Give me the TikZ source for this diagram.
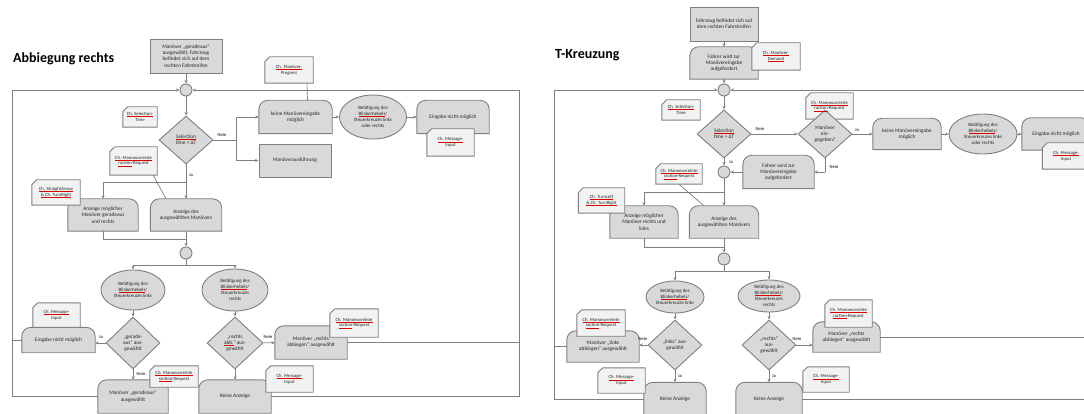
\documentclass[tikz,border=0pt]{standalone}
\usepackage{fontspec}
\setmainfont{Carlito}
\usetikzlibrary{shapes.geometric,arrows.meta}
\definecolor{shapefill}{HTML}{D9D9D9}
\definecolor{notefill}{HTML}{F2F2F2}
\definecolor{edge}{HTML}{7F7F7F}
\pgfdeclarelayer{bg}
\pgfsetlayers{bg,main}
% spell-check style underline
\newcommand{\redul}[1]{\setbox0\hbox{#1}\rlap{\color{red!85!black}\rule[-0.9pt]{\wd0}{0.3pt}}\box0}
% box with rounded top corners
\newcommand{\tombshape}[1]{%
  \begin{pgfonlayer}{bg}
    \filldraw[draw=edge,fill=shapefill,line width=0.9pt] (#1.south west) -- ([yshift=-9pt]#1.north west)
      arc[start angle=180,end angle=90,radius=9pt] -- ([xshift=-9pt]#1.north east)
      arc[start angle=90,end angle=0,radius=9pt] -- (#1.south east) -- cycle;
  \end{pgfonlayer}}
% note with cut corner
\newcommand{\noteshape}[1]{%
  \begin{pgfonlayer}{bg}
    \filldraw[draw=edge,fill=notefill,line width=0.9pt] (#1.south west) -- ([yshift=-5pt]#1.north west)
      -- ([xshift=5pt]#1.north west) -- (#1.north east) -- (#1.south east) -- cycle;
  \end{pgfonlayer}}
\tikzset{
  txt/.style={font=\fontsize{5.3}{6.2}\selectfont, align=center, inner sep=0pt, text=black!85},
  box/.style={txt, rectangle, draw=edge, fill=shapefill, line width=0.9pt},
  tombbox/.style={txt},
  note/.style={txt, font=\fontsize{4.7}{5.6}\selectfont},
  dec/.style={txt, diamond, draw=edge, fill=shapefill, line width=0.9pt, inner sep=0pt},
  act/.style={txt, font=\fontsize{4.9}{5.8}\selectfont, ellipse, draw=edge, fill=shapefill, line width=0.9pt, inner xsep=-6pt, inner ysep=0pt},
  merge/.style={circle, draw=edge, fill=shapefill, line width=0.9pt, minimum size=12pt, inner sep=0pt},
  lbl/.style={font=\fontsize{4.6}{5}\selectfont, inner sep=0pt},
  flow/.style={draw=edge, line width=0.7pt},
  arr/.style={flow, -{Stealth[length=3.5pt,width=3pt]}},
  ttl/.style={font=\fontsize{14}{16}\selectfont\bfseries, anchor=west, inner sep=0pt}
}
\begin{document}
\begin{tikzpicture}[x=1pt,y=-1pt]
\useasboundingbox (0,0) rectangle (1084,414);
\clip (0,0) rectangle (1084,414);

% ---------- Abbiegung rechts ----------
\node[ttl] (ttlL) at (13,59) {Abbiegung rechts};
\node[box, minimum width=72pt, minimum height=34pt] (startL) at (186,56) {Manöver „geradeaus“\\ausgewählt, Fahrzeug\\befindet sich auf dem\\rechten Fahrstreifen};
\node[merge] (mergeL1) at (186,90) {};
\node[dec, minimum width=54pt, minimum height=48pt] (selL) at (186,140) {\redul{Selection}\\time > ΔT};
\node[note, minimum width=34pt, minimum height=20pt] (nSelL) at (140,117) {\redul{Ch. Selection-}\\Time};
\noteshape{nSelL}

\node[tombbox, minimum width=73pt, minimum height=33pt] (keineL) at (295.5,117) {keine Manövereingabe\\möglich};
\tombshape{keineL}
\node[note, minimum width=48pt, minimum height=26pt] (nProgL) at (289,70) {\redul{Ch. Manöver-}\\Progress};
\noteshape{nProgL}
\node[act, minimum width=67pt, minimum height=44pt] (blinkL) at (373,117) {Betätigung des\\\redul{Blinkerhebels}/\\Steuerkreuzes links\\oder rechts};
\node[tombbox, minimum width=72pt, minimum height=33pt] (eingL1) at (453,117) {Eingabe nicht möglich};
\tombshape{eingL1}
\node[note, minimum width=47pt, minimum height=27pt] (nMsgL1) at (450.5,142.5) {\redul{Ch. Message-}\\Input};
\noteshape{nMsgL1}
\node[box, minimum width=72pt, minimum height=33pt] (ausfL) at (295,160.5) {Manöverausführung};

\coordinate (jNeinL) at (236,140);
\node[lbl] (neinL1) at (222,135) {Nein};
\draw[arr] (startL) -- (mergeL1);
\draw[arr] (mergeL1) -- (selL);
\draw[flow] (selL) -- (jNeinL);
\draw[arr] (jNeinL) |- (keineL);
\draw[arr] (jNeinL) |- (ausfL);
\draw[arr] (keineL) -- (blinkL);
\draw[arr] (blinkL) -- (eingL1);
\draw[flow] ([xshift=18pt]nProgL.south) -- ([xshift=12pt]keineL.north);

\node[tombbox, minimum width=70pt, minimum height=32pt] (anzMoegL) at (103,215) {Anzeige möglicher\\Manöver geradeaus\\und rechts};
\tombshape{anzMoegL}
\node[tombbox, minimum width=71pt, minimum height=32pt] (anzAusgL) at (186,215) {Anzeige des\\ausgewählten Manövers};
\tombshape{anzAusgL}
\node[note, minimum width=48pt, minimum height=25pt] (nArrL) at (56,192.5) {\redul{Ch. StraightArrow}\\\redul{\& Ch. TurnRight}};
\noteshape{nArrL}
\node[note, minimum width=47pt, minimum height=28pt] (nReqL1) at (133.5,161) {\redul{Ch. Manoeuvreinte}\\\redul{raction}-Request};
\noteshape{nReqL1}

\node[lbl] (jaL1) at (191,175) {Ja};
\coordinate (jJaL) at (186,182);
\draw[arr] (selL) -- (anzAusgL);
\draw[arr] (jJaL) -| (anzMoegL);
\draw[flow] ([xshift=-4pt]nReqL1.south east) -- ([xshift=-20pt]anzAusgL.north);

\node[merge] (mergeL2) at (186,253) {};
\coordinate (jAnzL) at (186,239);
\draw[flow] (anzMoegL) |- (jAnzL);
\draw[arr] (anzAusgL) -- (mergeL2);
\coordinate (jBlkL) at (186,265);
\node[act, minimum width=64pt, minimum height=40pt] (blinkLl) at (133,290) {Betätigung des\\\redul{Blinkerhebels}/\\Steuerkreuzes links};
\node[act, minimum width=66pt, minimum height=42pt] (blinkLr) at (235,290) {Betätigung des\\\redul{Blinkerhebels}/\\Steuerkreuzes\\rechts};
\draw[flow] (mergeL2) -- (jBlkL);
\draw[arr] (jBlkL) -| (blinkLl);
\draw[arr] (jBlkL) -| (blinkLr);

\node[dec, minimum width=54pt, minimum height=52pt] (decGerL) at (133,343) {„gerade-\\aus“ aus-\\gewählt};
\node[dec, minimum width=56pt, minimum height=52pt] (decRechL) at (235,343) {„rechts\\\redul{abb.}“ aus-\\gewählt};
\draw[arr] (blinkLl) -- (decGerL);
\draw[arr] (blinkLr) -- (decRechL);

\node[tombbox, minimum width=73pt, minimum height=25pt] (eingL2) at (58.5,340) {Eingabe nicht möglich};
\tombshape{eingL2}
\node[note, minimum width=47pt, minimum height=24pt] (nMsgL2) at (56.5,315) {\redul{Ch. Message-}\\Input};
\noteshape{nMsgL2}
\node[lbl] (jaL2) at (101,337) {Ja};
\draw[arr] (decGerL.west) -- (decGerL.west -| eingL2.east);

\node[tombbox, minimum width=70pt, minimum height=33pt] (manGerL) at (133,396.5) {Manöver „geradeaus“\\ausgewählt};
\tombshape{manGerL}
\node[note, minimum width=48pt, minimum height=21pt] (nReqL2) at (174,376.5) {\redul{Ch. Manoeuvreinte}\\\redul{raction}-Request};
\noteshape{nReqL2}
\node[lbl] (neinL2) at (141,374) {Nein};
\draw[arr] (decGerL) -- (manGerL);

\node[tombbox, minimum width=72pt, minimum height=33pt] (manRechL) at (311,342.5) {Manöver „rechts\\abbiegen“ ausgewählt};
\tombshape{manRechL}
\node[note, minimum width=48pt, minimum height=28pt] (nReqL3) at (354,323) {\redul{Ch. Manoeuvreinte}\\\redul{raction}-Request};
\noteshape{nReqL3}
\node[lbl] (neinL3) at (268,337) {Nein};
\draw[arr] (decRechL) -- (manRechL);

\node[tombbox, minimum width=72pt, minimum height=33pt] (keinAnzL) at (235,396.5) {Keine Anzeige};
\tombshape{keinAnzL}
\node[note, minimum width=47pt, minimum height=26pt] (nMsgL3) at (289.5,379) {\redul{Ch. Message-}\\Input};
\noteshape{nMsgL3}
\draw[arr] (decRechL) -- (keinAnzL);

\coordinate (cTLL) at (12,90);
\coordinate (cTRL) at (519,90);
\draw[arr] (manGerL.west) -| (cTLL) -- (mergeL1);
\draw[flow] (eingL2.west) -- (eingL2.west -| cTLL);
\draw[arr] (keinAnzL.east) -| (cTRL) -- (mergeL1);
\draw[flow] (manRechL.east) -- (manRechL.east -| cTRL);

% ---------- T-Kreuzung ----------
\node[ttl] (ttlR) at (555,55) {T-Kreuzung};
\node[box, minimum width=68pt, minimum height=34pt] (startR) at (724,24) {Fahrzeug befindet sich auf\\dem rechten Fahrstreifen};
\node[tombbox, minimum width=68pt, minimum height=32pt] (aufgR1) at (724,63) {Fahrer wird zur\\Manövereingabe\\aufgefordert};
\tombshape{aufgR1}
\node[note, minimum width=48pt, minimum height=27pt] (nDemR) at (776,56.5) {\redul{Ch. Manöver-}\\\redul{Demand}};
\noteshape{nDemR}
\node[merge] (mergeR1) at (724,90) {};
\draw[arr] (startR) -- (aufgR1);
\draw[arr] (aufgR1) -- (mergeR1);

\node[dec, minimum width=54pt, minimum height=48pt] (selR) at (724,134) {\redul{Selection}\\time > ΔT};
\node[note, minimum width=38pt, minimum height=20pt] (nSelR) at (681,110) {\redul{Ch. Selection-}\\Time};
\noteshape{nSelR}
\draw[arr] (mergeR1) -- (selR);
\node[dec, minimum width=54pt, minimum height=48pt] (eingegR) at (825,134) {Manöver\\ein-\\gegeben?};
\node[note, minimum width=47pt, minimum height=26pt] (nReqR1) at (829.5,106) {\redul{Ch. Manoeuvreinte}\\\redul{raction}-Request};
\noteshape{nReqR1}
\node[lbl] (neinR1) at (760,129) {Nein};
\draw[arr] (selR) -- (eingegR);

\node[tombbox, minimum width=68pt, minimum height=31pt] (keineR) at (907,134) {keine Manövereingabe\\möglich};
\tombshape{keineR}
\node[act, minimum width=68pt, minimum height=40pt] (blinkR) at (983,134) {Betätigung des\\\redul{Blinkerhebels}/\\Steuerkreuzes links\\oder rechts};
\node[tombbox, minimum width=68pt, minimum height=32pt] (eingR1) at (1056,134) {Eingabe nicht möglich};
\tombshape{eingR1}
\node[note, minimum width=47pt, minimum height=26pt] (nMsgR1) at (1066,156) {\redul{Ch. Message-}\\Input};
\noteshape{nMsgR1}
\node[lbl] (jaR0) at (857,130) {Ja};
\draw[arr] (eingegR) -- (keineR);
\draw[arr] (keineR) -- (blinkR);
\draw[arr] (blinkR) -- (eingR1);

\coordinate (jNeinR) at (825,172);
\node[tombbox, minimum width=71pt, minimum height=33pt] (aufgR2) at (778.5,172) {Fahrer wird zur\\Manövereingabe\\aufgefordert};
\tombshape{aufgR2}
\node[lbl] (neinR2) at (834,167) {Nein};
\node[merge] (mergeR2) at (724,172) {};
\draw[flow] (eingegR) -- (jNeinR);
\draw[arr] (jNeinR) -- (aufgR2);
\draw[arr] (aufgR2) -- (mergeR2);
\node[lbl] (jaR1) at (731,162) {Ja};
\draw[arr] (selR) -- (mergeR2);

\node[tombbox, minimum width=68pt, minimum height=32pt] (anzMoegR) at (644,222) {Anzeige möglicher\\Manöver rechts und\\links};
\tombshape{anzMoegR}
\node[tombbox, minimum width=69pt, minimum height=32pt] (anzAusgR) at (724,222) {Anzeige des\\ausgewählten Manövers};
\tombshape{anzAusgR}
\node[note, minimum width=46pt, minimum height=20pt] (nReqR2) at (679,174) {\redul{Ch. Manoeuvreinte}\\\redul{raction}-Request};
\noteshape{nReqR2}
\node[note, minimum width=46pt, minimum height=25pt] (nTurnR) at (601.5,200.5) {\redul{Ch. TurnLeft}\\\redul{\& Ch. TurnRight}};
\noteshape{nTurnR}
\coordinate (jJaR) at (724,192);
\draw[arr] (mergeR2) -- (anzAusgR);
\draw[arr] (jJaR) -| (anzMoegR);
\draw[flow] (nReqR2.south) -- ([xshift=-20pt]anzAusgR.north);

\coordinate (jAnzR) at (724,247);
\node[merge] (mergeR3) at (724,259) {};
\draw[flow] (anzMoegR) |- (jAnzR);
\draw[arr] (anzAusgR) -- (mergeR3);
\coordinate (jBlkR) at (724,271);
\node[act, minimum width=58pt, minimum height=32pt] (blinkRl) at (675,297) {Betätigung des\\\redul{Blinkerhebels}/\\Steuerkreuzes links};
\node[act, minimum width=62pt, minimum height=32pt] (blinkRr) at (769,296) {Betätigung des\\\redul{Blinkerhebels}/\\Steuerkreuzes\\rechts};
\draw[flow] (mergeR3) -- (jBlkR);
\draw[arr] (jBlkR) -| (blinkRl);
\draw[arr] (jBlkR) -| (blinkRr);

\node[dec, minimum width=54pt, minimum height=50pt] (decLiR) at (675,345) {„links“ aus-\\gewählt};
\node[dec, minimum width=54pt, minimum height=50pt] (decReR) at (769,345) {„rechts“\\aus-\\gewählt};
\draw[arr] (blinkRl) -- (decLiR);
\draw[arr] (blinkRr) -- (decReR);

\node[tombbox, minimum width=72pt, minimum height=31pt] (manLiR) at (603,346.5) {Manöver „links\\abbiegen“ ausgewählt};
\tombshape{manLiR}
\node[note, minimum width=48pt, minimum height=26pt] (nReqR3) at (601,323) {\redul{Ch. Manoeuvreinte}\\\redul{raction}-Request};
\noteshape{nReqR3}
\node[lbl] (neinR3) at (643,339) {Nein};
\draw[arr] (decLiR.west) -- (decLiR.west -| manLiR.east);

\node[tombbox, minimum width=62pt, minimum height=33pt] (keinAnzR1) at (675,399) {Keine Anzeige};
\tombshape{keinAnzR1}
\node[note, minimum width=47pt, minimum height=25pt] (nMsgR2) at (621.5,380.5) {\redul{Ch. Message-}\\Input};
\noteshape{nMsgR2}
\node[lbl] (jaR2) at (680,376) {Ja};
\draw[arr] (decLiR) -- (keinAnzR1);

\node[tombbox, minimum width=67pt, minimum height=30pt] (manReR) at (846.5,337) {Manöver „rechts\\abbiegen“ ausgewählt};
\tombshape{manReR}
\node[note, minimum width=47pt, minimum height=27pt] (nReqR4) at (848.5,313.5) {\redul{Ch. Manoeuvreinte}\\\redul{raction}-Request};
\noteshape{nReqR4}
\node[lbl] (neinR4) at (797,339) {Nein};
\draw[arr] (decReR.east) -- (decReR.east -| manReR.west);

\node[tombbox, minimum width=66pt, minimum height=33pt] (keinAnzR2) at (769,399) {Keine Anzeige};
\tombshape{keinAnzR2}
\node[note, minimum width=46pt, minimum height=25pt] (nMsgR3) at (826,379.5) {\redul{Ch. Message-}\\Input};
\noteshape{nMsgR3}
\node[lbl] (jaR3) at (774,376) {Ja};
\draw[arr] (decReR) -- (keinAnzR2);

\coordinate (cTLR) at (554,90);
\coordinate (cTRR) at (1090,90);
\draw[arr] (keinAnzR1.west) -| (cTLR) -- (mergeR1);
\draw[flow] (manLiR.west) -- (manLiR.west -| cTLR);
\draw[flow] (keinAnzR2.east) -- (keinAnzR2.east -| cTRR);
\draw[flow] (manReR.east) -- (manReR.east -| cTRR);
\draw[arr] (cTRR) -- (mergeR1);
\end{tikzpicture}
\end{document}
